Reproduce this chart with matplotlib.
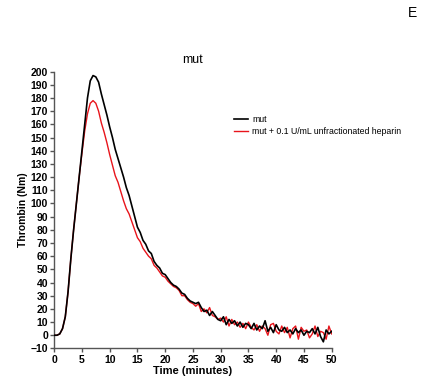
import numpy as np
import matplotlib
matplotlib.use("Agg")
import matplotlib.pyplot as plt

plt.rcParams['font.family'] = ['Liberation Sans', 'DejaVu Sans']

# time in minutes, 0.5 min steps
time_min = np.arange(0, 50.01, 0.5)

mut = [0, 0, 1, 5, 14, 33, 58, 80, 100, 120,
       140, 160, 180, 193, 197, 196, 192, 183, 175, 167,
       158, 150, 141, 134, 127, 120, 112, 106, 98, 90,
       82, 78, 72, 69, 64, 62, 56, 53, 51, 47,
       46, 43, 40, 38, 37, 35, 32, 31, 28, 26,
       25, 24, 25, 21, 18, 19, 15, 18, 15, 12,
       11, 14, 8, 12, 9, 11, 7, 10, 6, 9,
       8, 5, 9, 4, 7, 5, 11, 3, 6, 2,
       8, 4, 3, 6, 2, 4, 1, 5, 2, 4,
       0, 3, 2, 5, 1, 6, -1, -5, 4, 1,
       3]

mut_heparin = [0, 0, 1, 5, 14, 33, 58, 80, 100, 120,
               138, 155, 168, 176, 178, 176, 170, 161, 154, 146,
               137, 129, 121, 116, 109, 102, 96, 92, 86, 80,
               74, 71, 66, 63, 60, 58, 53, 51, 48, 45,
               44, 41, 39, 37, 36, 34, 30, 30, 27, 25,
               24, 22, 24, 18, 20, 17, 21, 15, 14, 12,
               13, 10, 14, 7, 12, 8, 10, 6, 9, 5,
               10, 6, 4, 8, 3, 7, 5, 0, 8, 9,
               3, 1, 7, 2, 6, -2, 5, 7, -3, 6,
               3, 4, -2, 1, 7, -1, 3, 2, -3, 7,
               1]

labels = ["mut", "mut + 0.1 U/mL unfractionated heparin"]

fig = plt.figure(figsize=(4.37, 3.85), dpi=100)
ax = fig.add_axes([0.124, 0.095, 0.635, 0.719])

ax.plot(time_min, mut_heparin, color="#e8141b", lw=1.0, label=labels[1], zorder=2)
ax.plot(time_min, mut, color="black", lw=1.2, label=labels[0], zorder=3)

ax.set_xlim(0, 50)
ax.set_ylim(-10, 200)
ax.set_xticks(np.arange(0, 51, 5))
ax.set_yticks(np.arange(-10, 201, 10))

for s in ["top", "right"]:
    ax.spines[s].set_visible(False)
for s in ["left", "bottom"]:
    ax.spines[s].set_color("#555555")
    ax.spines[s].set_linewidth(1.0)
ax.tick_params(direction="out", length=3, width=1, color="#555555",
               labelsize=7.5, pad=1.5)
for lab in ax.get_xticklabels() + ax.get_yticklabels():
    lab.set_fontweight("bold")

ax.set_xlabel("Time (minutes)", fontsize=8, fontweight="bold", labelpad=1)
ax.set_ylabel("Thrombin (Nm)", fontsize=7.5, fontweight="bold", labelpad=2)
ax.set_title("mut", fontsize=9, pad=6)

handles, labs = ax.get_legend_handles_labels()
ax.legend(handles[::-1], labs[::-1], loc="upper left",
          bbox_to_anchor=(0.62, 0.87), frameon=False, fontsize=6.3,
          handlelength=1.6, handletextpad=0.5, labelspacing=0.25)

fig.text(0.945, 0.985, "E", fontsize=10, ha="center", va="top")

fig.savefig("out.png", dpi=100)
